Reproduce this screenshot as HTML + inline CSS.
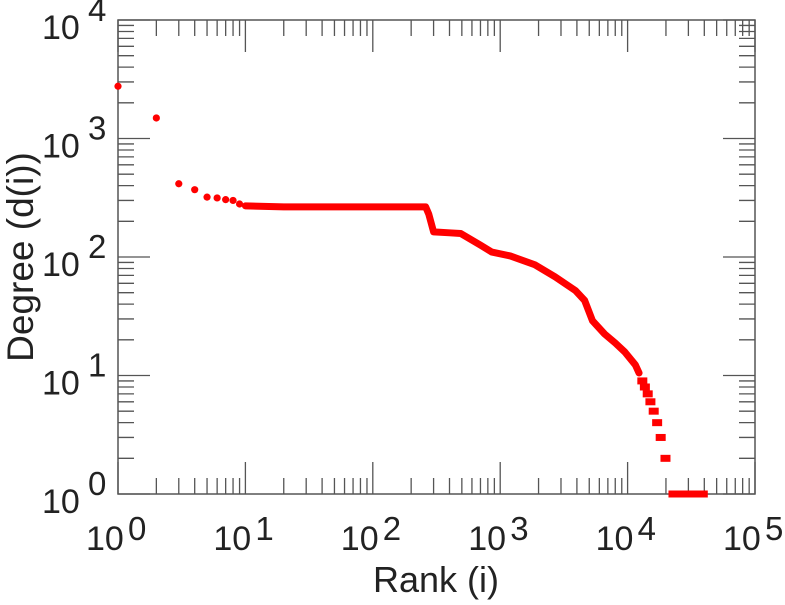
<!DOCTYPE html>
<html><head><meta charset="utf-8"><style>
body{margin:0;background:#fff}
svg text{font-family:"Liberation Sans",sans-serif;fill:#222}
</style></head><body>
<svg width="785" height="600" viewBox="0 0 785 600">
<g id="axes"></g>
<g id="marks"></g>
<text x="436" y="592" font-size="36" text-anchor="middle">Rank (i)</text>
<text transform="translate(33,257) rotate(-90)" font-size="37" text-anchor="middle">Degree (d(i))</text>
</svg>
<script>
const xDecades=[0,1,2,3,4,5];
const yDecades=[0,1,2,3,4];
// sparse leading ranks (rank, degree)
const dotRanks=[1,2,3,4,5,6,7,8,9];
const dotDegrees=[2760,1490,415,370,320,315,305,300,280];
// dense curve (rank, degree)
const curveRanks=[10,20,50,100,200,260,275,300,400,490,700,860,1200,1870,2700,3900,4600,5300,6600,8000,9500,11500,12300];
const curveDegrees=[270,265,265,265,265,265,230,163,160,158,126,110,102,86,68,52,43,29,22.4,18.8,15.8,12.3,10.5];
// discrete low-degree runs: degree, start rank, end rank
const runDegrees=[9,8,7,6,5,4,3,2,1];
const runStarts=[12700,13300,14000,14700,15600,16600,17700,19300,22300];
const runEnds=[13100,13800,14400,15200,16200,17100,18200,20200,40000];

const L=118,R=755,T=20,B=494;
const NS='http://www.w3.org/2000/svg';
const xs=r=>L+(R-L)*Math.log10(r)/5;
const ys=d=>B-(B-T)*Math.log10(d)/4;
function mk(tag,at,parent){const e=document.createElementNS(NS,tag);for(const k in at)e.setAttribute(k,at[k]);parent.appendChild(e);return e;}
const ax=document.getElementById('axes'),mg=document.getElementById('marks');
const frame=mk('rect',{x:L,y:T,width:R-L,height:B-T,fill:'none',stroke:'#555','stroke-width':1.5},ax);


let tp='';
xDecades.forEach((d,i)=>{
  const x=xs(Math.pow(10,d));
  tp+=`M${x},${B}v-32M${x},${T}v32`;
  if(i<xDecades.length-1)for(let m=2;m<10;m++){const xm=xs(m*Math.pow(10,d));tp+=`M${xm},${B}v-16M${xm},${T}v16`;}
  const t=mk('text',{x:x-32,y:550,'font-size':34},ax);
  t.textContent='10';
  
  
  const s=mk('text',{x:x+10,y:540,'font-size':33},ax);
  s.textContent=String(d);
  
  
});
yDecades.forEach((d,i)=>{
  const y=ys(Math.pow(10,d));
  tp+=`M${L},${y}h32M${R},${y}h-32`;
  if(i<yDecades.length-1)for(let m=2;m<10;m++){const ym=ys(m*Math.pow(10,d));tp+=`M${L},${ym}h16M${R},${ym}h-16`;}
  const t=mk('text',{x:42,y:y+19,'font-size':34},ax);
  t.textContent='10';
  
  
  const s=mk('text',{x:88,y:y+1,'font-size':33},ax);
  s.textContent=String(d);
  
  
});
const tk=mk('path',{d:tp,stroke:'#555','stroke-width':1.3,fill:'none'},ax);


dotRanks.forEach((r,i)=>{
  const c=mk('circle',{cx:xs(r),cy:ys(dotDegrees[i]),r:3.6,fill:'#f00'},mg);
  
  
});
const pts=curveRanks.map((r,i)=>xs(r)+','+ys(curveDegrees[i])).join(' ');
const pl=mk('polyline',{points:pts,fill:'none',stroke:'#f00','stroke-width':7,'stroke-linejoin':'round','stroke-linecap':'round'},mg);


runDegrees.forEach((d,i)=>{
  const x1=xs(runStarts[i]),x2=xs(runEnds[i]),y=ys(d);
  const ln=mk('line',{x1:x1,y1:y,x2:Math.max(x2,x1+3),y2:y,stroke:'#f00','stroke-width':7,'stroke-linecap':'square'},mg);
  
  
});
</script>
</body></html>
